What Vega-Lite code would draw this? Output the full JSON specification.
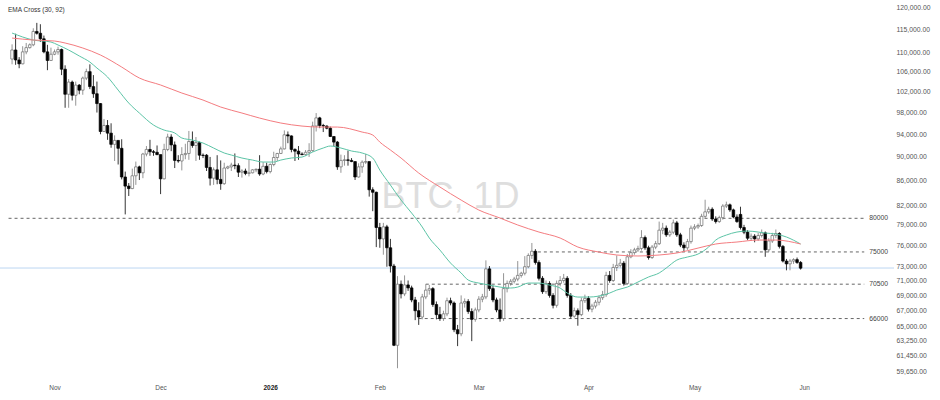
{
  "$schema": "https://vega.github.io/schema/vega-lite/v6.json",
  "width": 894,
  "height": 380,
  "autosize": {"type": "none"},
  "padding": {"left": 0, "top": 0, "right": 46, "bottom": 20},
  "background": "#ffffff",
  "title": {"text": "EMA Cross (30, 92)", "anchor": "start", "orient": "top", "offset": -13.5, "dx": 8, "fontSize": 6.5, "fontWeight": "normal", "font": "Liberation Sans", "color": "#333333", "frame": "group"},
  "config": {"view": {"stroke": null}, "font": "Liberation Sans"},
  "datasets": {
    "candles": [
      {"t":"2025-10-20","o":108600,"h":111700,"l":107500,"c":110500},
      {"t":"2025-10-21","o":110500,"h":114000,"l":107400,"c":108400},
      {"t":"2025-10-22","o":108400,"h":109000,"l":106700,"c":107600},
      {"t":"2025-10-23","o":107600,"h":111300,"l":107500,"c":110100},
      {"t":"2025-10-24","o":110100,"h":112000,"l":109600,"c":111000},
      {"t":"2025-10-25","o":111000,"h":111900,"l":110800,"c":111600},
      {"t":"2025-10-26","o":111600,"h":115200,"l":111300,"c":114500},
      {"t":"2025-10-27","o":114500,"h":116400,"l":113800,"c":114100},
      {"t":"2025-10-28","o":114100,"h":116100,"l":112200,"c":112900},
      {"t":"2025-10-29","o":112900,"h":113600,"l":109800,"c":110100},
      {"t":"2025-10-30","o":110100,"h":111600,"l":106300,"c":108300},
      {"t":"2025-10-31","o":108300,"h":111000,"l":108200,"c":109600},
      {"t":"2025-11-01","o":109600,"h":110600,"l":109400,"c":110100},
      {"t":"2025-11-02","o":110100,"h":111200,"l":109500,"c":110600},
      {"t":"2025-11-03","o":110600,"h":110800,"l":105300,"c":106500},
      {"t":"2025-11-04","o":106500,"h":107300,"l":98900,"c":101500},
      {"t":"2025-11-05","o":101500,"h":104500,"l":98900,"c":103900},
      {"t":"2025-11-06","o":103900,"h":104200,"l":100300,"c":101300},
      {"t":"2025-11-07","o":101300,"h":104000,"l":99300,"c":103300},
      {"t":"2025-11-08","o":103300,"h":103500,"l":101500,"c":102300},
      {"t":"2025-11-09","o":102300,"h":105000,"l":101400,"c":104700},
      {"t":"2025-11-10","o":104700,"h":106600,"l":104300,"c":106000},
      {"t":"2025-11-11","o":106000,"h":107500,"l":102500,"c":103000},
      {"t":"2025-11-12","o":103000,"h":105300,"l":100800,"c":101600},
      {"t":"2025-11-13","o":101600,"h":104000,"l":98000,"c":99700},
      {"t":"2025-11-14","o":99700,"h":99800,"l":94000,"c":94500},
      {"t":"2025-11-15","o":94500,"h":96800,"l":94500,"c":95600},
      {"t":"2025-11-16","o":95600,"h":96600,"l":93000,"c":94200},
      {"t":"2025-11-17","o":94200,"h":96000,"l":91600,"c":92200},
      {"t":"2025-11-18","o":92200,"h":93800,"l":89300,"c":92900},
      {"t":"2025-11-19","o":92900,"h":92900,"l":88700,"c":91500},
      {"t":"2025-11-20","o":91500,"h":93100,"l":86200,"c":86600},
      {"t":"2025-11-21","o":86600,"h":87500,"l":80600,"c":85100},
      {"t":"2025-11-22","o":85100,"h":85600,"l":83500,"c":84700},
      {"t":"2025-11-23","o":84700,"h":88000,"l":84600,"c":86800},
      {"t":"2025-11-24","o":86800,"h":89200,"l":85300,"c":88300},
      {"t":"2025-11-25","o":88300,"h":88500,"l":86100,"c":87300},
      {"t":"2025-11-26","o":87300,"h":90700,"l":86400,"c":90500},
      {"t":"2025-11-27","o":90500,"h":91900,"l":90100,"c":91300},
      {"t":"2025-11-28","o":91300,"h":93000,"l":90200,"c":90900},
      {"t":"2025-11-29","o":90900,"h":91200,"l":90200,"c":90800},
      {"t":"2025-11-30","o":90800,"h":92000,"l":90300,"c":90400},
      {"t":"2025-12-01","o":90400,"h":90400,"l":83800,"c":86300},
      {"t":"2025-12-02","o":86300,"h":92300,"l":86200,"c":91300},
      {"t":"2025-12-03","o":91300,"h":94100,"l":91000,"c":93500},
      {"t":"2025-12-04","o":93500,"h":94000,"l":91000,"c":92100},
      {"t":"2025-12-05","o":92100,"h":92700,"l":88100,"c":89400},
      {"t":"2025-12-06","o":89400,"h":90300,"l":89000,"c":89300},
      {"t":"2025-12-07","o":89300,"h":91700,"l":87700,"c":90400},
      {"t":"2025-12-08","o":90400,"h":92300,"l":89600,"c":90600},
      {"t":"2025-12-09","o":90600,"h":94600,"l":89500,"c":92700},
      {"t":"2025-12-10","o":92700,"h":94500,"l":91600,"c":92000},
      {"t":"2025-12-11","o":92000,"h":93500,"l":89300,"c":92500},
      {"t":"2025-12-12","o":92500,"h":92700,"l":89500,"c":90300},
      {"t":"2025-12-13","o":90300,"h":90600,"l":89800,"c":90250},
      {"t":"2025-12-14","o":90300,"h":90500,"l":87600,"c":88200},
      {"t":"2025-12-15","o":88200,"h":90000,"l":85200,"c":86400},
      {"t":"2025-12-16","o":86400,"h":88200,"l":85300,"c":87800},
      {"t":"2025-12-17","o":87800,"h":90300,"l":85400,"c":86200},
      {"t":"2025-12-18","o":86200,"h":89400,"l":84500,"c":85500},
      {"t":"2025-12-19","o":85500,"h":89000,"l":85300,"c":88100},
      {"t":"2025-12-20","o":88100,"h":88500,"l":87900,"c":88300},
      {"t":"2025-12-21","o":88300,"h":89000,"l":87600,"c":88600},
      {"t":"2025-12-22","o":88600,"h":90600,"l":87900,"c":88500},
      {"t":"2025-12-23","o":88500,"h":88900,"l":86600,"c":87400},
      {"t":"2025-12-24","o":87400,"h":87900,"l":86500,"c":87600},
      {"t":"2025-12-25","o":87600,"h":88000,"l":86900,"c":87200},
      {"t":"2025-12-26","o":87200,"h":89500,"l":86700,"c":87300},
      {"t":"2025-12-27","o":87300,"h":87900,"l":87200,"c":87800},
      {"t":"2025-12-28","o":87800,"h":88000,"l":87400,"c":87900},
      {"t":"2025-12-29","o":87900,"h":90300,"l":86800,"c":87100},
      {"t":"2025-12-30","o":87100,"h":89100,"l":86900,"c":88400},
      {"t":"2025-12-31","o":88400,"h":89000,"l":87200,"c":87500},
      {"t":"2026-01-01","o":87500,"h":88900,"l":87200,"c":88700},
      {"t":"2026-01-02","o":88700,"h":90900,"l":88400,"c":89900},
      {"t":"2026-01-03","o":89900,"h":90700,"l":89300,"c":90600},
      {"t":"2026-01-04","o":90600,"h":91800,"l":90500,"c":91400},
      {"t":"2026-01-05","o":91400,"h":94700,"l":91300,"c":93900},
      {"t":"2026-01-06","o":93900,"h":94500,"l":92400,"c":93700},
      {"t":"2026-01-07","o":93700,"h":93800,"l":90800,"c":91300},
      {"t":"2026-01-08","o":91300,"h":91500,"l":89300,"c":91000},
      {"t":"2026-01-09","o":91000,"h":91900,"l":89500,"c":90500},
      {"t":"2026-01-10","o":90500,"h":90800,"l":90300,"c":90400},
      {"t":"2026-01-11","o":90400,"h":91200,"l":90200,"c":90800},
      {"t":"2026-01-12","o":90800,"h":92400,"l":90000,"c":91100},
      {"t":"2026-01-13","o":91100,"h":96300,"l":90900,"c":95500},
      {"t":"2026-01-14","o":95500,"h":97900,"l":94500,"c":97000},
      {"t":"2026-01-15","o":97000,"h":97200,"l":95100,"c":95600},
      {"t":"2026-01-16","o":95600,"h":95900,"l":94400,"c":95500},
      {"t":"2026-01-17","o":95500,"h":95600,"l":94900,"c":95100},
      {"t":"2026-01-18","o":95100,"h":95400,"l":93500,"c":93600},
      {"t":"2026-01-19","o":93600,"h":93600,"l":91900,"c":92600},
      {"t":"2026-01-20","o":92600,"h":92800,"l":87800,"c":88300},
      {"t":"2026-01-21","o":88300,"h":90400,"l":87300,"c":89400},
      {"t":"2026-01-22","o":89400,"h":90300,"l":88500,"c":89500},
      {"t":"2026-01-23","o":89500,"h":91100,"l":88500,"c":89400},
      {"t":"2026-01-24","o":89400,"h":89800,"l":89100,"c":89200},
      {"t":"2026-01-25","o":89200,"h":89200,"l":86100,"c":86600},
      {"t":"2026-01-26","o":86600,"h":88900,"l":86500,"c":88300},
      {"t":"2026-01-27","o":88300,"h":89400,"l":87300,"c":89100},
      {"t":"2026-01-28","o":89100,"h":90500,"l":88800,"c":89200},
      {"t":"2026-01-29","o":89200,"h":89200,"l":83400,"c":84500},
      {"t":"2026-01-30","o":84500,"h":84900,"l":81100,"c":84100},
      {"t":"2026-01-31","o":84100,"h":84200,"l":75700,"c":78600},
      {"t":"2026-02-01","o":78600,"h":79300,"l":75600,"c":76900},
      {"t":"2026-02-02","o":76900,"h":79300,"l":74600,"c":78700},
      {"t":"2026-02-03","o":78700,"h":79000,"l":72900,"c":75600},
      {"t":"2026-02-04","o":75600,"h":76900,"l":72100,"c":73000},
      {"t":"2026-02-05","o":73000,"h":73300,"l":62600,"c":62700},
      {"t":"2026-02-06","o":62700,"h":71600,"l":60000,"c":70500},
      {"t":"2026-02-07","o":70500,"h":71000,"l":68600,"c":69200},
      {"t":"2026-02-08","o":69200,"h":71700,"l":68900,"c":70400},
      {"t":"2026-02-09","o":70400,"h":71000,"l":69600,"c":70000},
      {"t":"2026-02-10","o":70000,"h":70300,"l":68100,"c":68400},
      {"t":"2026-02-11","o":68400,"h":68800,"l":65800,"c":67000},
      {"t":"2026-02-12","o":67000,"h":68100,"l":65200,"c":66200},
      {"t":"2026-02-13","o":66200,"h":69200,"l":65900,"c":68800},
      {"t":"2026-02-14","o":68800,"h":70500,"l":68500,"c":69700},
      {"t":"2026-02-15","o":69700,"h":70400,"l":69100,"c":69900},
      {"t":"2026-02-16","o":69900,"h":70100,"l":67500,"c":67800},
      {"t":"2026-02-17","o":67800,"h":68200,"l":65900,"c":66500},
      {"t":"2026-02-18","o":66500,"h":67500,"l":65700,"c":66000},
      {"t":"2026-02-19","o":66000,"h":67000,"l":65700,"c":66600},
      {"t":"2026-02-20","o":66600,"h":68700,"l":66300,"c":68300},
      {"t":"2026-02-21","o":68300,"h":68700,"l":67700,"c":68000},
      {"t":"2026-02-22","o":68000,"h":68200,"l":64300,"c":64600},
      {"t":"2026-02-23","o":64600,"h":65200,"l":62600,"c":64100},
      {"t":"2026-02-24","o":64100,"h":69000,"l":63800,"c":68000},
      {"t":"2026-02-25","o":68000,"h":68600,"l":67400,"c":68200},
      {"t":"2026-02-26","o":68200,"h":68500,"l":66600,"c":66900},
      {"t":"2026-02-27","o":66900,"h":67300,"l":63200,"c":65900},
      {"t":"2026-02-28","o":65900,"h":67400,"l":65600,"c":67100},
      {"t":"2026-03-01","o":67100,"h":68900,"l":66800,"c":68500},
      {"t":"2026-03-02","o":68500,"h":69200,"l":68100,"c":68800},
      {"t":"2026-03-03","o":68800,"h":73800,"l":68500,"c":72600},
      {"t":"2026-03-04","o":72600,"h":73000,"l":69600,"c":69900},
      {"t":"2026-03-05","o":69900,"h":70300,"l":68100,"c":68400},
      {"t":"2026-03-06","o":68400,"h":68700,"l":66800,"c":67100},
      {"t":"2026-03-07","o":67100,"h":68600,"l":65600,"c":66000},
      {"t":"2026-03-08","o":66000,"h":72000,"l":65700,"c":69900},
      {"t":"2026-03-09","o":69900,"h":71000,"l":69400,"c":70600},
      {"t":"2026-03-10","o":70600,"h":71200,"l":70300,"c":70900},
      {"t":"2026-03-11","o":70900,"h":71500,"l":70600,"c":71200},
      {"t":"2026-03-12","o":71200,"h":73700,"l":70900,"c":71700},
      {"t":"2026-03-13","o":71700,"h":72200,"l":71400,"c":72000},
      {"t":"2026-03-14","o":72000,"h":74400,"l":71700,"c":72900},
      {"t":"2026-03-15","o":72900,"h":74800,"l":72700,"c":74500},
      {"t":"2026-03-16","o":74500,"h":76300,"l":74000,"c":75100},
      {"t":"2026-03-17","o":75100,"h":75400,"l":73200,"c":73500},
      {"t":"2026-03-18","o":73500,"h":73800,"l":71000,"c":71300},
      {"t":"2026-03-19","o":71300,"h":71600,"l":69200,"c":69500},
      {"t":"2026-03-20","o":69500,"h":71000,"l":69200,"c":70600},
      {"t":"2026-03-21","o":70600,"h":70900,"l":68700,"c":69000},
      {"t":"2026-03-22","o":69000,"h":69300,"l":67300,"c":67700},
      {"t":"2026-03-23","o":67700,"h":71000,"l":67400,"c":70600},
      {"t":"2026-03-24","o":70600,"h":71600,"l":70200,"c":71000},
      {"t":"2026-03-25","o":71000,"h":71900,"l":70700,"c":71300},
      {"t":"2026-03-26","o":71300,"h":71600,"l":68700,"c":69000},
      {"t":"2026-03-27","o":69000,"h":69300,"l":66000,"c":66300},
      {"t":"2026-03-28","o":66300,"h":67400,"l":66100,"c":67000},
      {"t":"2026-03-29","o":67000,"h":67300,"l":65100,"c":66500},
      {"t":"2026-03-30","o":66500,"h":68700,"l":66300,"c":68300},
      {"t":"2026-03-31","o":68300,"h":69100,"l":68000,"c":68600},
      {"t":"2026-04-01","o":68600,"h":68900,"l":66900,"c":67200},
      {"t":"2026-04-02","o":67200,"h":67900,"l":66800,"c":67600},
      {"t":"2026-04-03","o":67600,"h":68400,"l":67300,"c":68100},
      {"t":"2026-04-04","o":68100,"h":69000,"l":67700,"c":68700},
      {"t":"2026-04-05","o":68700,"h":69600,"l":68400,"c":69100},
      {"t":"2026-04-06","o":69100,"h":72200,"l":68800,"c":71700},
      {"t":"2026-04-07","o":71700,"h":72300,"l":70700,"c":71000},
      {"t":"2026-04-08","o":71000,"h":73300,"l":70800,"c":72800},
      {"t":"2026-04-09","o":72800,"h":74500,"l":72300,"c":73100},
      {"t":"2026-04-10","o":73100,"h":74000,"l":72800,"c":73400},
      {"t":"2026-04-11","o":73400,"h":73700,"l":70300,"c":70600},
      {"t":"2026-04-12","o":70600,"h":74700,"l":70400,"c":74300},
      {"t":"2026-04-13","o":74300,"h":75400,"l":74100,"c":74900},
      {"t":"2026-04-14","o":74900,"h":75600,"l":74600,"c":75300},
      {"t":"2026-04-15","o":75300,"h":75900,"l":75000,"c":75500},
      {"t":"2026-04-16","o":75500,"h":78200,"l":75200,"c":77100},
      {"t":"2026-04-17","o":77100,"h":77400,"l":75300,"c":75600},
      {"t":"2026-04-18","o":75600,"h":75900,"l":73900,"c":74200},
      {"t":"2026-04-19","o":74200,"h":76000,"l":74000,"c":75700},
      {"t":"2026-04-20","o":75700,"h":76600,"l":75400,"c":76200},
      {"t":"2026-04-21","o":76200,"h":79500,"l":76000,"c":78200},
      {"t":"2026-04-22","o":78200,"h":79300,"l":77600,"c":78500},
      {"t":"2026-04-23","o":78500,"h":78900,"l":77200,"c":77500},
      {"t":"2026-04-24","o":77500,"h":78200,"l":77200,"c":77900},
      {"t":"2026-04-25","o":77900,"h":79800,"l":77600,"c":79300},
      {"t":"2026-04-26","o":79300,"h":79600,"l":77200,"c":77500},
      {"t":"2026-04-27","o":77500,"h":77800,"l":75700,"c":76000},
      {"t":"2026-04-28","o":76000,"h":76400,"l":75000,"c":75600},
      {"t":"2026-04-29","o":75600,"h":76900,"l":75300,"c":76500},
      {"t":"2026-04-30","o":76500,"h":78900,"l":76200,"c":78500},
      {"t":"2026-05-01","o":78500,"h":79100,"l":78200,"c":78700},
      {"t":"2026-05-02","o":78700,"h":79200,"l":78400,"c":78900},
      {"t":"2026-05-03","o":78900,"h":80700,"l":78700,"c":80300},
      {"t":"2026-05-04","o":80300,"h":82900,"l":80000,"c":81000},
      {"t":"2026-05-05","o":81000,"h":81800,"l":80700,"c":81400},
      {"t":"2026-05-06","o":81400,"h":81700,"l":79600,"c":79900},
      {"t":"2026-05-07","o":79900,"h":80300,"l":79200,"c":79500},
      {"t":"2026-05-08","o":79500,"h":80400,"l":79300,"c":80100},
      {"t":"2026-05-09","o":80100,"h":82200,"l":79800,"c":81900},
      {"t":"2026-05-10","o":81900,"h":82600,"l":81600,"c":82100},
      {"t":"2026-05-11","o":82100,"h":82300,"l":81000,"c":81300},
      {"t":"2026-05-12","o":81300,"h":81500,"l":80000,"c":80200},
      {"t":"2026-05-13","o":80200,"h":80600,"l":79300,"c":79500},
      {"t":"2026-05-14","o":80600,"h":81800,"l":78300,"c":78600},
      {"t":"2026-05-15","o":78600,"h":79000,"l":77600,"c":77900},
      {"t":"2026-05-16","o":77900,"h":78200,"l":76700,"c":77000},
      {"t":"2026-05-17","o":77000,"h":77700,"l":76600,"c":77300},
      {"t":"2026-05-18","o":77300,"h":77600,"l":76400,"c":76900},
      {"t":"2026-05-19","o":76900,"h":77800,"l":76600,"c":77400},
      {"t":"2026-05-20","o":77400,"h":78300,"l":77100,"c":77800},
      {"t":"2026-05-21","o":77800,"h":78000,"l":74300,"c":75300},
      {"t":"2026-05-22","o":75300,"h":77000,"l":75000,"c":76600},
      {"t":"2026-05-23","o":76600,"h":77800,"l":76300,"c":77400},
      {"t":"2026-05-24","o":77400,"h":78300,"l":77000,"c":77700},
      {"t":"2026-05-25","o":77700,"h":77900,"l":75500,"c":75800},
      {"t":"2026-05-26","o":75800,"h":76000,"l":73500,"c":73700},
      {"t":"2026-05-27","o":73700,"h":74000,"l":72400,"c":73300},
      {"t":"2026-05-28","o":73300,"h":74000,"l":72400,"c":73700},
      {"t":"2026-05-29","o":73700,"h":74100,"l":73300,"c":73900},
      {"t":"2026-05-30","o":73900,"h":74200,"l":73300,"c":73500},
      {"t":"2026-05-31","o":73500,"h":73700,"l":72500,"c":72700}
    ],
    "ema": [
      {"t":"2025-10-20","v":114150,"s":"EMA 30"},
      {"t":"2025-10-26","v":112630,"s":"EMA 30"},
      {"t":"2025-10-31","v":112200,"s":"EMA 30"},
      {"t":"2025-11-02","v":111560,"s":"EMA 30"},
      {"t":"2025-11-05","v":110490,"s":"EMA 30"},
      {"t":"2025-11-08","v":109240,"s":"EMA 30"},
      {"t":"2025-11-11","v":107970,"s":"EMA 30"},
      {"t":"2025-11-13","v":106740,"s":"EMA 30"},
      {"t":"2025-11-16","v":104920,"s":"EMA 30"},
      {"t":"2025-11-19","v":102320,"s":"EMA 30"},
      {"t":"2025-11-22","v":99800,"s":"EMA 30"},
      {"t":"2025-11-25","v":97910,"s":"EMA 30"},
      {"t":"2025-11-29","v":95680,"s":"EMA 30"},
      {"t":"2025-12-02","v":94760,"s":"EMA 30"},
      {"t":"2025-12-05","v":94230,"s":"EMA 30"},
      {"t":"2025-12-07","v":93330,"s":"EMA 30"},
      {"t":"2025-12-10","v":92960,"s":"EMA 30"},
      {"t":"2025-12-13","v":92430,"s":"EMA 30"},
      {"t":"2025-12-16","v":91550,"s":"EMA 30"},
      {"t":"2025-12-19","v":90680,"s":"EMA 30"},
      {"t":"2025-12-21","v":90330,"s":"EMA 30"},
      {"t":"2025-12-24","v":89810,"s":"EMA 30"},
      {"t":"2025-12-27","v":89460,"s":"EMA 30"},
      {"t":"2025-12-30","v":89120,"s":"EMA 30"},
      {"t":"2026-01-02","v":89120,"s":"EMA 30"},
      {"t":"2026-01-04","v":89460,"s":"EMA 30"},
      {"t":"2026-01-07","v":89810,"s":"EMA 30"},
      {"t":"2026-01-10","v":89980,"s":"EMA 30"},
      {"t":"2026-01-13","v":90850,"s":"EMA 30"},
      {"t":"2026-01-16","v":91550,"s":"EMA 30"},
      {"t":"2026-01-18","v":91900,"s":"EMA 30"},
      {"t":"2026-01-21","v":91550,"s":"EMA 30"},
      {"t":"2026-01-24","v":91030,"s":"EMA 30"},
      {"t":"2026-01-27","v":90680,"s":"EMA 30"},
      {"t":"2026-01-30","v":89810,"s":"EMA 30"},
      {"t":"2026-02-01","v":87760,"s":"EMA 30"},
      {"t":"2026-02-04","v":85270,"s":"EMA 30"},
      {"t":"2026-02-07","v":82850,"s":"EMA 30"},
      {"t":"2026-02-10","v":80810,"s":"EMA 30"},
      {"t":"2026-02-13","v":78680,"s":"EMA 30"},
      {"t":"2026-02-15","v":77030,"s":"EMA 30"},
      {"t":"2026-02-18","v":75270,"s":"EMA 30"},
      {"t":"2026-02-21","v":73420,"s":"EMA 30"},
      {"t":"2026-02-24","v":72030,"s":"EMA 30"},
      {"t":"2026-02-26","v":71060,"s":"EMA 30"},
      {"t":"2026-03-01","v":70650,"s":"EMA 30"},
      {"t":"2026-03-04","v":70380,"s":"EMA 30"},
      {"t":"2026-03-07","v":70110,"s":"EMA 30"},
      {"t":"2026-03-10","v":69980,"s":"EMA 30"},
      {"t":"2026-03-12","v":70110,"s":"EMA 30"},
      {"t":"2026-03-15","v":70650,"s":"EMA 30"},
      {"t":"2026-03-18","v":70650,"s":"EMA 30"},
      {"t":"2026-03-21","v":70380,"s":"EMA 30"},
      {"t":"2026-03-24","v":69980,"s":"EMA 30"},
      {"t":"2026-03-26","v":69310,"s":"EMA 30"},
      {"t":"2026-03-29","v":68780,"s":"EMA 30"},
      {"t":"2026-04-01","v":68780,"s":"EMA 30"},
      {"t":"2026-04-04","v":68910,"s":"EMA 30"},
      {"t":"2026-04-07","v":69310,"s":"EMA 30"},
      {"t":"2026-04-09","v":69710,"s":"EMA 30"},
      {"t":"2026-04-12","v":70110,"s":"EMA 30"},
      {"t":"2026-04-15","v":70790,"s":"EMA 30"},
      {"t":"2026-04-18","v":71480,"s":"EMA 30"},
      {"t":"2026-04-21","v":72030,"s":"EMA 30"},
      {"t":"2026-04-23","v":72720,"s":"EMA 30"},
      {"t":"2026-04-26","v":73840,"s":"EMA 30"},
      {"t":"2026-04-29","v":74270,"s":"EMA 30"},
      {"t":"2026-05-02","v":74700,"s":"EMA 30"},
      {"t":"2026-05-05","v":75710,"s":"EMA 30"},
      {"t":"2026-05-07","v":76730,"s":"EMA 30"},
      {"t":"2026-05-10","v":77470,"s":"EMA 30"},
      {"t":"2026-05-13","v":77920,"s":"EMA 30"},
      {"t":"2026-05-16","v":78070,"s":"EMA 30"},
      {"t":"2026-05-19","v":77920,"s":"EMA 30"},
      {"t":"2026-05-21","v":77770,"s":"EMA 30"},
      {"t":"2026-05-24","v":77620,"s":"EMA 30"},
      {"t":"2026-05-27","v":77180,"s":"EMA 30"},
      {"t":"2026-05-31","v":76150,"s":"EMA 30"},
      {"t":"2025-10-20","v":113060,"s":"EMA 92"},
      {"t":"2025-10-26","v":112630,"s":"EMA 92"},
      {"t":"2025-11-01","v":112420,"s":"EMA 92"},
      {"t":"2025-11-04","v":111990,"s":"EMA 92"},
      {"t":"2025-11-09","v":110920,"s":"EMA 92"},
      {"t":"2025-11-14","v":109440,"s":"EMA 92"},
      {"t":"2025-11-20","v":106940,"s":"EMA 92"},
      {"t":"2025-11-25","v":104710,"s":"EMA 92"},
      {"t":"2025-12-01","v":103320,"s":"EMA 92"},
      {"t":"2025-12-07","v":101740,"s":"EMA 92"},
      {"t":"2025-12-13","v":100380,"s":"EMA 92"},
      {"t":"2025-12-18","v":99040,"s":"EMA 92"},
      {"t":"2025-12-24","v":97910,"s":"EMA 92"},
      {"t":"2025-12-29","v":96970,"s":"EMA 92"},
      {"t":"2026-01-04","v":96050,"s":"EMA 92"},
      {"t":"2026-01-10","v":95490,"s":"EMA 92"},
      {"t":"2026-01-15","v":95310,"s":"EMA 92"},
      {"t":"2026-01-20","v":95310,"s":"EMA 92"},
      {"t":"2026-01-27","v":94400,"s":"EMA 92"},
      {"t":"2026-01-30","v":93860,"s":"EMA 92"},
      {"t":"2026-02-01","v":92600,"s":"EMA 92"},
      {"t":"2026-02-04","v":91200,"s":"EMA 92"},
      {"t":"2026-02-07","v":89810,"s":"EMA 92"},
      {"t":"2026-02-12","v":87260,"s":"EMA 92"},
      {"t":"2026-02-18","v":84950,"s":"EMA 92"},
      {"t":"2026-02-24","v":82850,"s":"EMA 92"},
      {"t":"2026-03-01","v":81280,"s":"EMA 92"},
      {"t":"2026-03-07","v":80040,"s":"EMA 92"},
      {"t":"2026-03-12","v":78980,"s":"EMA 92"},
      {"t":"2026-03-18","v":77920,"s":"EMA 92"},
      {"t":"2026-03-24","v":77030,"s":"EMA 92"},
      {"t":"2026-03-29","v":75710,"s":"EMA 92"},
      {"t":"2026-04-04","v":74980,"s":"EMA 92"},
      {"t":"2026-04-09","v":74560,"s":"EMA 92"},
      {"t":"2026-04-15","v":74420,"s":"EMA 92"},
      {"t":"2026-04-21","v":74560,"s":"EMA 92"},
      {"t":"2026-04-26","v":74850,"s":"EMA 92"},
      {"t":"2026-05-02","v":75560,"s":"EMA 92"},
      {"t":"2026-05-07","v":76150,"s":"EMA 92"},
      {"t":"2026-05-13","v":76440,"s":"EMA 92"},
      {"t":"2026-05-19","v":76730,"s":"EMA 92"},
      {"t":"2026-05-24","v":76730,"s":"EMA 92"},
      {"t":"2026-05-31","v":76150,"s":"EMA 92"}
    ],
    "levels": [
      {"lv":80000,"s":"2025-10-19","e":"2026-06-18"},
      {"lv":75000,"s":"2026-03-16","e":"2026-06-18"},
      {"lv":70500,"s":"2026-02-14","e":"2026-06-18"},
      {"lv":66000,"s":"2026-02-12","e":"2026-06-18"}
    ],
    "misc": [
      {"label":"BTC, 1D","wt":"2026-02-21","wy":81590,"last":72720}
    ]
  },
  "layer": [
    {
      "data": {"name": "misc"},
      "mark": {"type": "text", "fontSize": 36, "color": "#dedede", "align": "center", "baseline": "alphabetic", "font": "Liberation Sans"},
      "encoding": {
        "x": {"field": "wt", "type": "temporal", "scale": {"type": "utc", "domain": [{"year":2025,"month":10,"date":18,"utc":true},{"year":2026,"month":6,"date":25,"utc":true}]},
          "axis": {"title": null, "values": [{"year":2025,"month":11,"date":1,"utc":true},{"year":2025,"month":12,"date":1,"utc":true},{"year":2026,"month":1,"date":1,"utc":true},{"year":2026,"month":2,"date":1,"utc":true},{"year":2026,"month":3,"date":1,"utc":true},{"year":2026,"month":4,"date":1,"utc":true},{"year":2026,"month":5,"date":1,"utc":true},{"year":2026,"month":6,"date":1,"utc":true}],
            "labelExpr": "utcmonth(datum.value) === 0 ? utcFormat(datum.value, '%Y') : utcFormat(datum.value, '%b')",
            "ticks": false, "domain": false, "grid": false, "labelFontSize": 6.5, "labelFont": "Liberation Sans",
            "labelColor": {"condition": {"test": "utcmonth(datum.value) === 0", "value": "#222222"}, "value": "#555555"},
            "labelFontWeight": {"condition": {"test": "utcmonth(datum.value) === 0", "value": "bold"}, "value": "normal"},
            "labelPadding": 4, "labelFlush": false, "labelOverlap": false}},
        "y": {"field": "wy", "type": "quantitative", "scale": {"type": "log", "domain": [58660, 121623], "nice": false},
          "axis": {"title": null, "orient": "right", "values": [120000,115000,110000,106000,102000,98000,94000,90000,86000,82000,79000,76000,73000,71000,69000,67000,65000,63250,61450,59650],
            "format": ",.2f", "ticks": false, "domain": false, "grid": false, "labelFontSize": 6.8, "labelFont": "Liberation Sans", "labelColor": "#555555", "labelPadding": 2, "labelFlush": false, "labelOverlap": false}},
        "text": {"field": "label"}
      }
    },
    {
      "data": {"name": "misc"},
      "mark": {"type": "rule", "color": "#bcd6f2", "strokeWidth": 1},
      "encoding": {
        "y": {"field": "last", "type": "quantitative", "scale": {"type": "log", "domain": [58660, 121623], "nice": false}, "axis": {"title": null}}
      }
    },
    {
      "data": {"name": "levels"},
      "mark": {"type": "rule", "color": "#666666", "strokeWidth": 1, "strokeDash": [3, 3]},
      "encoding": {
        "x": {"field": "s", "type": "temporal", "axis": {"title": null}},
        "x2": {"field": "e"},
        "y": {"field": "lv", "type": "quantitative", "scale": {"type": "log", "domain": [58660, 121623], "nice": false}, "axis": {"title": null}}
      }
    },
    {
      "data": {"name": "levels"},
      "mark": {"type": "text", "align": "left", "baseline": "middle", "dx": 5, "fontSize": 6.8, "color": "#444444", "font": "Liberation Sans"},
      "encoding": {
        "x": {"field": "e", "type": "temporal", "axis": {"title": null}},
        "y": {"field": "lv", "type": "quantitative", "scale": {"type": "log", "domain": [58660, 121623], "nice": false}, "axis": {"title": null}},
        "text": {"field": "lv", "type": "quantitative", "format": "d"}
      }
    },
    {
      "data": {"name": "candles"},
      "mark": {"type": "rule", "strokeWidth": 0.8},
      "encoding": {
        "x": {"field": "t", "type": "temporal", "axis": {"title": null}},
        "y": {"field": "l", "type": "quantitative", "scale": {"type": "log", "domain": [58660, 121623], "nice": false}, "axis": {"title": null}},
        "y2": {"field": "h"},
        "color": {"condition": {"test": "datum.c >= datum.o", "value": "#7a7a7a"}, "value": "#000000"}
      }
    },
    {
      "data": {"name": "candles"},
      "mark": {"type": "bar", "size": 2.6, "strokeWidth": 0.7},
      "encoding": {
        "x": {"field": "t", "type": "temporal", "axis": {"title": null}},
        "y": {"field": "o", "type": "quantitative", "scale": {"type": "log", "domain": [58660, 121623], "nice": false}, "axis": {"title": null}},
        "y2": {"field": "c"},
        "fill": {"condition": {"test": "datum.c >= datum.o", "value": "#ffffff"}, "value": "#000000"},
        "stroke": {"condition": {"test": "datum.c >= datum.o", "value": "#6a6a6a"}, "value": "#000000"}
      }
    },
    {
      "data": {"name": "ema"},
      "mark": {"type": "line", "strokeWidth": 1, "interpolate": "monotone"},
      "encoding": {
        "x": {"field": "t", "type": "temporal", "axis": {"title": null}},
        "y": {"field": "v", "type": "quantitative", "scale": {"type": "log", "domain": [58660, 121623], "nice": false}, "axis": {"title": null}},
        "color": {"field": "s", "type": "nominal", "scale": {"domain": ["EMA 30", "EMA 92"], "range": ["#5cc4a6", "#f47c80"]}, "legend": null}
      }
    }
  ]
}
